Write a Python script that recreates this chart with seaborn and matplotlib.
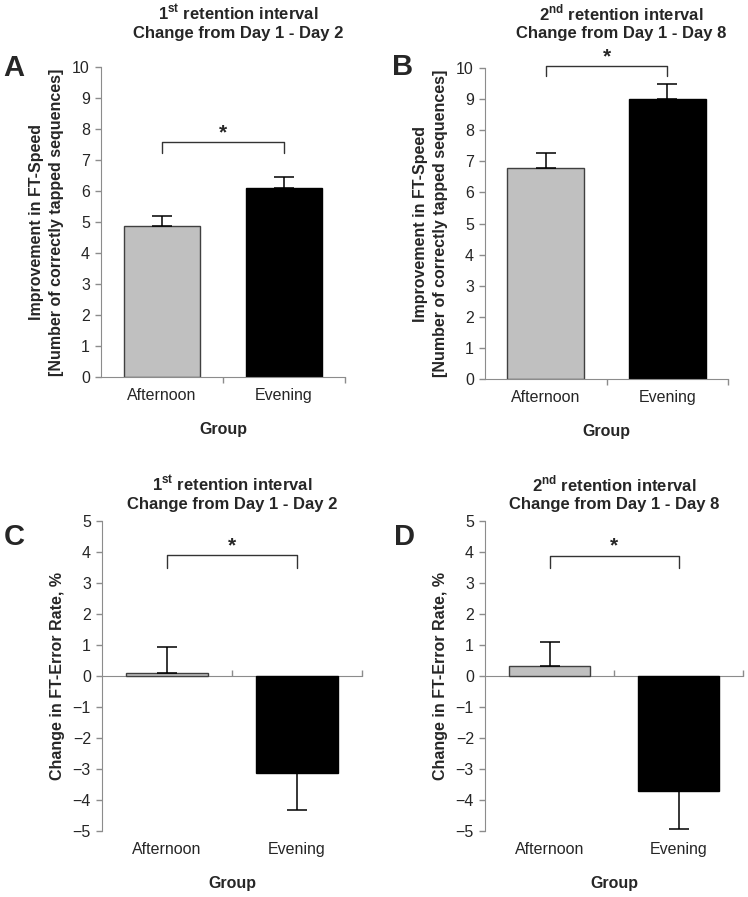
import matplotlib
matplotlib.use("Agg")
import matplotlib.pyplot as plt
import seaborn as sns

sns.set_style("white")
plt.rcParams["font.family"] = ["Liberation Sans", "DejaVu Sans"]
plt.rcParams["mathtext.fontset"] = "custom"
plt.rcParams["mathtext.rm"] = "Liberation Sans"
plt.rcParams["mathtext.bf"] = "Liberation Sans:bold"

groups = ["Afternoon", "Evening"]
bar_colors = ["#c0c0c0", "#000000"]
edge_colors = ["#404040", "#000000"]

speed_day2 = [4.86, 6.09]
speed_day2_err = [0.33, 0.36]
speed_day8 = [6.78, 9.0]
speed_day8_err = [0.48, 0.50]
error_day2 = [0.1, -3.12]
error_day2_err = [0.82, 1.21]
error_day8 = [0.31, -3.72]
error_day8_err = [0.8, 1.21]

# bracket heights (bar, tick end, star)
sig_A = (7.58, 7.22, 7.56)
sig_B = (10.06, 9.74, 10.04)
sig_C = (3.89, 3.5, 3.89)
sig_D = (3.87, 3.5, 3.89)

titles = ["1$^{\\mathbf{st}}$ retention interval\nChange from Day 1 - Day 2",
          "2$^{\\mathbf{nd}}$ retention interval\nChange from Day 1 - Day 8"]
speed_label = "Improvement in FT-Speed\n[Number of correctly tapped sequences]"
error_label = "Change in FT-Error Rate, %"

AXCOL = "#8c8c8c"
W, H = 748, 897

fig = plt.figure(figsize=(7.48, 8.97), dpi=100)


def px_axes(left, top, right, bottom):
    return fig.add_axes([left / W, 1 - bottom / H, (right - left) / W, (bottom - top) / H])


def draw_panel(ax, values, errs, ylim, yticks, sig, zero_axis):
    sns.barplot(x=groups, y=values, hue=groups, palette=bar_colors, width=0.63,
                errorbar=None, legend=False, ax=ax, zorder=2)
    for patch, ec in zip(ax.patches, edge_colors):
        patch.set_edgecolor(ec)
        patch.set_linewidth(1.0)
    for i, (v, e) in enumerate(zip(values, errs)):
        yerr = [[0], [e]] if v >= 0 else [[e], [0]]
        ax.errorbar(i, v, yerr=yerr, fmt="none", ecolor="black", elinewidth=1.1,
                    capsize=7, capthick=1.1, zorder=3)
    ax.set_xlim(-0.5, 1.5)
    ax.set_ylim(*ylim)
    ax.set_yticks(yticks)
    ax.set_xticks([0, 1])
    ax.set_xticklabels(groups)
    ax.tick_params(axis="x", length=0, pad=8, labelsize=11.5)
    ax.tick_params(axis="y", length=4, width=1, color=AXCOL, pad=4, labelsize=11.5,
                   left=True)
    for s in ["top", "right"]:
        ax.spines[s].set_visible(False)
    ax.spines["left"].set_color(AXCOL)
    if zero_axis:
        ax.spines["bottom"].set_visible(False)
        sec = ax.secondary_xaxis(0.5)
        sec.set_xticks([0.5, 1.5])
        sec.set_xticklabels(["", ""])
        sec.tick_params(length=4, width=1, color=AXCOL)
        for s in sec.spines.values():
            s.set_color(AXCOL)
    else:
        ax.spines["bottom"].set_color(AXCOL)
        ax.set_xticks([0.5, 1.5], minor=True)
        ax.tick_params(axis="x", which="minor", length=4, width=1, color=AXCOL,
                       bottom=True)
    top, low, star = sig
    ax.plot([0, 0, 1, 1], [low, top, top, low], color="#333333", lw=1.0,
            clip_on=False, zorder=4)
    ax.text(0.5, star, "*", ha="center", va="bottom", fontsize=15, fontweight="bold",
            clip_on=False)
    ax.set_xlabel("Group", fontsize=11.5, fontweight="bold")
    ax.xaxis.set_label_coords(0.5, -0.168)
    ax.xaxis.label.set_va("center")


axA = px_axes(101, 67, 345, 377)
axB = px_axes(485, 68, 728, 379)
axC = px_axes(102, 521, 362, 831)
axD = px_axes(485, 521, 743, 831)

draw_panel(axA, speed_day2, speed_day2_err, (0, 10), range(0, 11), sig_A, False)
draw_panel(axB, speed_day8, speed_day8_err, (0, 10), range(0, 11), sig_B, False)
draw_panel(axC, error_day2, error_day2_err, (-5, 5), range(-5, 6), sig_C, True)
draw_panel(axD, error_day8, error_day8_err, (-5, 5), range(-5, 6), sig_D, True)

for ax, lab, xpos in [(axA, speed_label, -0.222), (axB, speed_label, -0.224),
                      (axC, error_label, -0.173), (axD, error_label, -0.174)]:
    ax.set_ylabel(lab, fontsize=11.5, fontweight="bold", linespacing=1.4)
    ax.yaxis.label.set_va("center")
    ax.yaxis.set_label_coords(xpos, 0.5)

# titles
for x, y, t in [(238, 22, titles[0]), (621, 22, titles[1]),
                (232, 493, titles[0]), (614, 493, titles[1])]:
    fig.text(x / W, 1 - y / H, t, ha="center", va="center", fontsize=12,
             fontweight="bold", linespacing=1.2)

# panel letters
for x, y, t in [(14, 68, "A"), (403, 67, "B"), (14, 537, "C"), (404, 537, "D")]:
    fig.text(x / W, 1 - y / H, t, ha="center", va="center", fontsize=21,
             fontweight="bold")

fig.savefig("out.png", dpi=100)
